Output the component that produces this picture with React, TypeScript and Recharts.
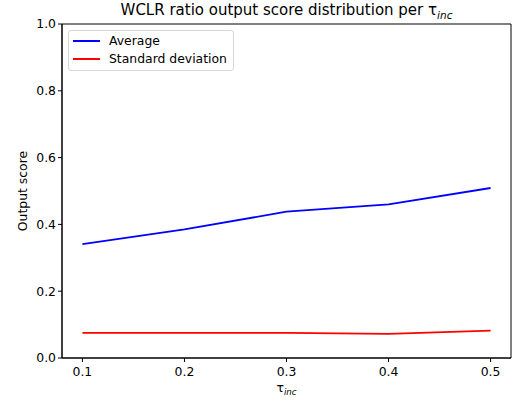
import React from 'react';
import {
  LineChart,
  Line,
  XAxis,
  YAxis,
  Legend,
  ReferenceArea,
} from 'recharts';

// tau_inc values on the x axis
const TAU_VALUES = [0.1, 0.2, 0.3, 0.4, 0.5];
// average output score per tau
const AVERAGE = [0.341, 0.385, 0.438, 0.46, 0.509];
// standard deviation per tau
const STD_DEV = [0.075, 0.075, 0.075, 0.072, 0.082];

const X_TICKS = [0.1, 0.2, 0.3, 0.4, 0.5];
const Y_TICKS = [0, 0.2, 0.4, 0.6, 0.8, 1.0];

const FONT = 'DejaVu Sans, sans-serif';
const FS = 12.4;

const data = TAU_VALUES.map((tau, i) => ({
  tau,
  avg: AVERAGE[i],
  std: STD_DEV[i],
}));

const SERIES = [
  { key: 'avg', name: 'Average', color: '#0000ff' },
  { key: 'std', name: 'Standard deviation', color: '#ff0000' },
];

// matplotlib-like legend box
const LegendBox = () => (
  <div
    style={{
      boxSizing: 'border-box',
      width: 166,
      height: 41,
      border: '1px solid #d6d6d6',
      borderRadius: 3,
      background: 'rgba(255,255,255,0.8)',
      padding: '1px 0 0 4px',
      fontFamily: FONT,
      fontSize: FS,
      color: '#000',
    }}
  >
    {SERIES.map((s) => (
      <div key={s.key} style={{ display: 'flex', alignItems: 'center', height: 18.3 }}>
        <div style={{ width: 27, height: 2, background: s.color, marginRight: 9 }} />
        <span style={{ lineHeight: 1 }}>{s.name}</span>
      </div>
    ))}
  </div>
);

export default function App() {
  return (
    <div
      style={{
        position: 'absolute',
        left: 0,
        top: 0,
        width: 514,
        height: 403,
        background: '#fff',
      }}
    >
      <div
        style={{
          position: 'absolute',
          left: 62,
          width: 449,
          top: 1,
          textAlign: 'center',
          fontFamily: FONT,
          fontSize: 15,
          color: '#000',
          whiteSpace: 'nowrap',
        }}
      >
        WCLR ratio output score distribution per τ
        <sub style={{ fontStyle: 'italic', fontSize: 10.5 }}>inc</sub>
      </div>
      <div
        style={{
          position: 'absolute',
          left: 62,
          width: 449,
          top: 380,
          textAlign: 'center',
          fontFamily: FONT,
          fontSize: FS,
          color: '#000',
        }}
      >
        τ<sub style={{ fontStyle: 'italic', fontSize: 8.7 }}>inc</sub>
      </div>
      <LineChart
        width={514}
        height={403}
        data={data}
        margin={{ top: 24, right: 3, bottom: 0, left: 0 }}
      >
        <XAxis
          dataKey="tau"
          type="number"
          domain={[0.08, 0.52]}
          ticks={X_TICKS}
          tickFormatter={(v: number) => v.toFixed(1)}
          height={45}
          stroke="#000"
          tickSize={4}
          tick={{ fill: '#000', fontSize: FS, fontFamily: FONT, dy: 3 }}
        />
        <YAxis
          type="number"
          domain={[0, 1]}
          ticks={Y_TICKS}
          tickFormatter={(v: number) => v.toFixed(1)}
          width={62}
          stroke="#000"
          tickSize={4}
          tick={{ fill: '#000', fontSize: FS, fontFamily: FONT }}
          label={{
            value: 'Output score',
            angle: -90,
            position: 'insideLeft',
            offset: 23,
            style: { textAnchor: 'middle', fill: '#000', fontSize: FS, fontFamily: FONT },
          }}
        />
        <ReferenceArea
          x1={0.08}
          x2={0.52}
          y1={0}
          y2={1}
          fill="none"
          stroke="#000"
          strokeWidth={1}
        />
        {SERIES.map((s) => (
          <Line
            key={s.key}
            dataKey={s.key}
            name={s.name}
            stroke={s.color}
            strokeWidth={1.8}
            dot={false}
            isAnimationActive={false}
          />
        ))}
        <Legend
          layout="vertical"
          align="center"
          verticalAlign="middle"
          content={<LegendBox />}
          wrapperStyle={{ left: 68, top: 30, width: 'auto' }}
        />
      </LineChart>
    </div>
  );
}
